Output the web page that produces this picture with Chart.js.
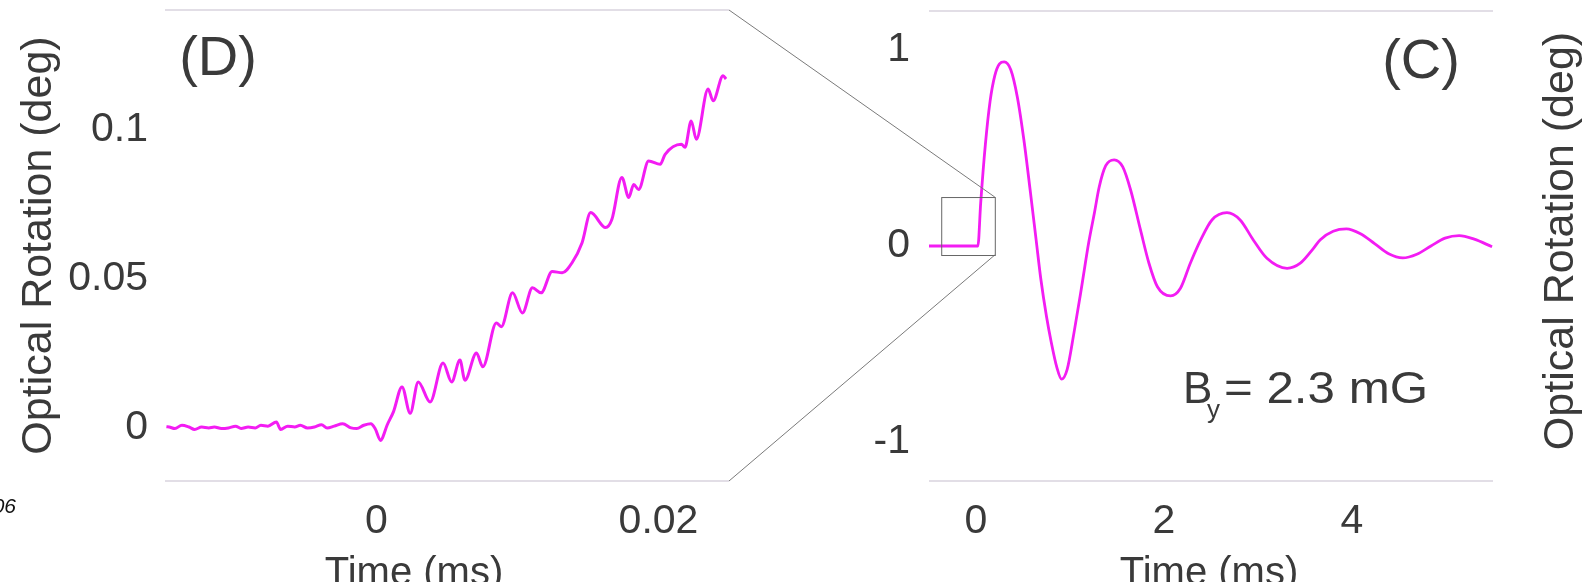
<!DOCTYPE html>
<html><head><meta charset="utf-8">
<script src="https://cdn.jsdelivr.net/npm/chart.js@4.4.1/dist/chart.umd.min.js"></script>
<style>
html,body{margin:0;padding:0;background:#fff;}
#wrap{position:relative;width:1585px;height:582px;overflow:hidden;background:#fff;}
#wrap canvas{position:absolute;top:0;}
#cL{left:0;width:760px;height:582px;}
#cR{left:760px;width:825px;height:582px;}
#ov{left:0;width:1585px;height:582px;pointer-events:none;}
</style></head><body>
<div id="wrap">
<canvas id="cL" width="760" height="582"></canvas>
<canvas id="cR" width="825" height="582"></canvas>
<canvas id="ov" width="1585" height="582"></canvas>
</div>
<script>
// ---------- DATA ----------
// Panel (D): zoomed view of the onset
const leftTime = [-0.0149,-0.0147,-0.0143,-0.0138,-0.0133,-0.0129,-0.0124,-0.0119,-0.0115,-0.0110,-0.0105,-0.0100,-0.0096,-0.0091,-0.0086,-0.0082,-0.0077,-0.0071,-0.0068,-0.0063,-0.0058,-0.0054,-0.0049,-0.0044,-0.0039,-0.0035,-0.0030,-0.0024,-0.0018,-0.0014,-0.0009,-0.0004,-0.0001,0.0003,0.0004,0.00075,0.0012,
  0.00181,0.00239,0.00296,0.0038,0.00472,0.00533,0.00592,0.00627,0.00709,0.00754,0.0085,0.00885,0.00965,0.01035,0.01106,0.01167,0.01246,0.01317,0.01387,0.01458,0.01519,0.01625,0.01669,0.0174,0.01789,0.01824,0.01859,0.0193,0.02012,0.02047,0.02162,0.02188,0.02232,0.02268,0.02352,0.02387,0.02458,0.02479];
const leftRotation = [0.0002,0.0001,-0.0004,0.0007,0.0001,-0.0007,0.0001,-0.0002,0.0001,-0.0004,-0.0002,0.0004,-0.0004,0.0001,-0.0002,0.0007,0.0004,0.0018,-0.0007,0.0004,0.0001,0.0007,-0.0002,0.0001,0.0009,-0.0002,0.0004,0.0012,-0.0002,-0.0004,0.0007,0.0012,-0.0004,-0.0044,-0.0038,0.0007,0.0052,
  0.01357,0.00471,0.01525,0.00852,0.02155,0.01525,0.02256,0.01582,0.02492,0.0203,0.03502,0.03377,0.04512,0.03838,0.0468,0.04512,0.05229,0.05185,0.05522,0.06195,0.07205,0.067,0.0697,0.08384,0.0771,0.08148,0.0798,0.08933,0.08822,0.09158,0.09495,0.09394,0.1028,0.09663,0.11347,0.10953,0.11795,0.11684];

// Panel (C): full decaying precession signal
const rightTime = [-0.5,-0.25,0,0.02,0.05,0.1,0.15,0.2,0.25,0.3,0.37,0.44,0.51,0.58,0.64,0.69,0.75,0.8,0.86,0.91,0.97,1.04,1.12,1.2,1.26,1.31,1.38,1.47,1.56,1.645,1.75,1.84,1.93,2.07,2.175,2.28,2.39,2.51,2.67,2.81,2.95,3.095,3.31,3.45,3.59,3.66,3.8,3.94,4.09,4.24,4.39,4.54,4.69,4.84,4.99,5.14,5.3,5.49];
const rightRotation = [0,0,0,0,0.22,0.52,0.74,0.87,0.93,0.94,0.9,0.76,0.54,0.27,0.03,-0.17,-0.36,-0.49,-0.62,-0.68,-0.63,-0.45,-0.22,0.02,0.17,0.30,0.41,0.44,0.405,0.286,0.082,-0.088,-0.208,-0.255,-0.216,-0.088,0.031,0.133,0.17,0.133,0.031,-0.063,-0.114,-0.088,-0.012,0.031,0.075,0.087,0.062,0.012,-0.04,-0.061,-0.042,0.0,0.04,0.053,0.035,-0.004];

// Tick values and labels
const leftXTicks = [0, 0.02];
const leftXTickLabels = ['0', '0.02'];
const leftYTicks = [0, 0.05, 0.1];
const leftYTickLabels = ['0', '0.05', '0.1'];
const rightXTicks = [0, 2, 4];
const rightXTickLabels = ['0', '2', '4'];
const rightYTicks = [-1, 0, 1];
const rightYTickLabels = ['-1', '0', '1'];

// Inset (zoom) box drawn on panel (C), in data units
const zoomBoxTime = [-0.37, 0.2];
const zoomBoxRotation = [-0.046, 0.25];

const yTitle = 'Optical Rotation (deg)';
const xTitle = 'Time (ms)';
const fieldText = ['B', 'y', '= 2.3 mG'];

// ---------- STYLE ----------
const FONT = "'Liberation Sans', Arial, Helvetica, sans-serif";
const TEXT = '#3a3a3a';
const MAGENTA = '#f31cf3';
const BORDER = '#d9d3de';

const toPts = (xs, ys) => xs.map((x, i) => ({x: x, y: ys[i]}));

const frameLines = {
  id: 'frameLines',
  beforeDatasetsDraw(chart) {
    const {ctx, chartArea: a} = chart;
    ctx.save();
    ctx.strokeStyle = BORDER;
    ctx.lineWidth = 1.5;
    ctx.beginPath();
    ctx.moveTo(a.left, a.top); ctx.lineTo(a.right, a.top);
    ctx.moveTo(a.left, a.bottom); ctx.lineTo(a.right, a.bottom);
    ctx.stroke();
    ctx.restore();
  }
};

function axis(min, max, ticks, labels, size, padding, extra) {
  return Object.assign({
    type: 'linear', min: min, max: max,
    grid: {display: false, drawTicks: false},
    border: {display: false},
    afterBuildTicks: s => { s.ticks = ticks.map(v => ({value: v})); },
    ticks: {
      autoSkip: false, maxRotation: 0, padding: padding, color: TEXT,
      font: {family: FONT, size: size},
      callback: (v, i) => labels[i]
    }
  }, extra);
}

const leftChart = new Chart(document.getElementById('cL'), {
  type: 'scatter',
  data: {datasets: [{
    data: toPts(leftTime, leftRotation), showLine: true,
    borderColor: MAGENTA, borderWidth: 3, pointRadius: 0,
    cubicInterpolationMode: 'monotone'
  }]},
  options: {
    responsive: false, animation: false, events: [],
    layout: {padding: {top: 10, right: 31, left: 0, bottom: 0}},
    plugins: {legend: {display: false}, tooltip: {enabled: false}},
    scales: {
      x: axis(-0.015, 0.025, leftXTicks, leftXTickLabels, 41, 16, {
        position: 'bottom',
        afterFit: s => { s.height = 101; s.paddingLeft = 0; s.paddingRight = 0; }
      }),
      y: axis(-0.018, 0.14, leftYTicks, leftYTickLabels, 41, 17, {
        position: 'left',
        title: {display: true, text: yTitle, color: TEXT, font: {family: FONT, size: 43}, padding: {top: 13, bottom: 0}},
        afterFit: s => { s.width = 165; s.paddingTop = 0; s.paddingBottom = 0; }
      })
    }
  },
  plugins: [frameLines]
});

const rightChart = new Chart(document.getElementById('cR'), {
  type: 'scatter',
  data: {datasets: [{
    data: toPts(rightTime, rightRotation), showLine: true,
    borderColor: MAGENTA, borderWidth: 2.8, pointRadius: 0,
    cubicInterpolationMode: 'monotone'
  }]},
  options: {
    responsive: false, animation: false, events: [],
    layout: {padding: {top: 11, right: 92, left: 0, bottom: 0}},
    plugins: {legend: {display: false}, tooltip: {enabled: false}},
    scales: {
      x: axis(-0.5, 5.5, rightXTicks, rightXTickLabels, 41, 16, {
        position: 'bottom',
        afterFit: s => { s.height = 101; s.paddingLeft = 0; s.paddingRight = 0; }
      }),
      y: axis(-1.2, 1.2, rightYTicks, rightYTickLabels, 41, 19, {
        position: 'left',
        afterFit: s => { s.width = 169; s.paddingTop = 0; s.paddingBottom = 0; }
      })
    }
  },
  plugins: [frameLines]
});

// ---------- OVERLAY: connectors, inset box, annotations ----------
(function drawOverlay() {
  const ov = document.getElementById('ov');
  const ctx = ov.getContext('2d');
  const offR = 760;
  const la = leftChart.chartArea;
  const rx = rightChart.scales.x, ry = rightChart.scales.y;
  const bx0 = rx.getPixelForValue(zoomBoxTime[0]) + offR;
  const bx1 = rx.getPixelForValue(zoomBoxTime[1]) + offR;
  const by0 = ry.getPixelForValue(zoomBoxRotation[1]);
  const by1 = ry.getPixelForValue(zoomBoxRotation[0]);

  ctx.save();
  ctx.lineWidth = 1;
  ctx.strokeStyle = '#7a7a7a';
  ctx.beginPath();
  ctx.moveTo(la.right, la.top); ctx.lineTo(bx1, by0);
  ctx.moveTo(la.right, la.bottom); ctx.lineTo(bx1, by1);
  ctx.stroke();
  ctx.strokeStyle = '#666';
  ctx.strokeRect(bx0 + 0.5, by0 + 0.5, bx1 - bx0, by1 - by0);
  ctx.restore();

  ctx.save();
  ctx.fillStyle = TEXT;
  // panel labels
  ctx.font = '56px ' + FONT;
  ctx.textAlign = 'center';
  ctx.textBaseline = 'alphabetic';
  ctx.fillText('(D)', 218, 75);
  ctx.fillText('(C)', 1421, 78);
  // x-axis titles
  ctx.font = '40px ' + FONT;
  ctx.fillText(xTitle, 414, 585);
  ctx.fillText(xTitle, 1209, 585);
  // right y-axis title
  ctx.save();
  ctx.translate(1561, 241);
  ctx.rotate(-Math.PI / 2);
  ctx.font = '43px ' + FONT;
  ctx.textBaseline = 'middle';
  ctx.fillText(yTitle, 0, 0);
  ctx.restore();
  // field annotation
  ctx.textAlign = 'left';
  ctx.font = '44px ' + FONT;
  ctx.fillText(fieldText[0], 1183, 403);
  ctx.font = '26px ' + FONT;
  ctx.fillText(fieldText[1], 1207, 418);
  ctx.font = '44px ' + FONT;
  const w = ctx.measureText(fieldText[2]).width;
  const sx = Math.min(1.2, Math.max(0.9, (1428 - 1224) / w));
  ctx.save();
  ctx.translate(1224, 403);
  ctx.scale(sx, 1);
  ctx.fillText(fieldText[2], 0, 0);
  ctx.restore();
  // cropped fragment at left edge
  ctx.fillStyle = '#111';
  ctx.font = 'italic 21px ' + FONT;
  ctx.textAlign = 'right';
  ctx.fillText('06', 16, 513);
  ctx.restore();
})();
</script>
</body></html>
